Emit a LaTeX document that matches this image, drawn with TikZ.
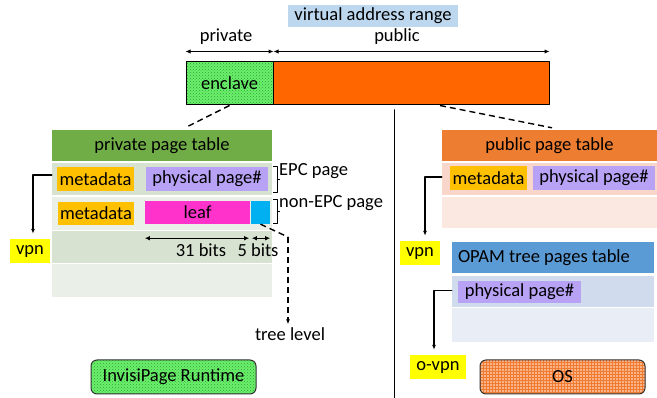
\documentclass[tikz,border=0pt]{standalone}
\usepackage{fontspec}
\setmainfont{Carlito}
\usetikzlibrary{arrows.meta,calc,positioning,patterns,decorations.pathreplacing}
\definecolor{vaBlue}{HTML}{BDD7EE}
\definecolor{encFill}{HTML}{6BF06B}
\definecolor{encDots}{HTML}{2E9E3A}
\definecolor{pubRange}{HTML}{FF6600}
\definecolor{privHead}{HTML}{70AD47}
\definecolor{privDark}{HTML}{D7E3D0}
\definecolor{privLight}{HTML}{EAF0E7}
\definecolor{metaYellow}{HTML}{FFC000}
\definecolor{physPurple}{HTML}{B8A2F6}
\definecolor{leafPink}{HTML}{FF33CC}
\definecolor{lvlBlue}{HTML}{00B0F0}
\definecolor{vpnYellow}{HTML}{FFFF00}
\definecolor{pubHead}{HTML}{ED7D31}
\definecolor{pubDark}{HTML}{F8D7CA}
\definecolor{pubLight}{HTML}{FBE8E1}
\definecolor{opamHead}{HTML}{5B9BD5}
\definecolor{opamDark}{HTML}{D0DCEE}
\definecolor{opamLight}{HTML}{E8EDF6}
\definecolor{osFill}{HTML}{F9B48A}
\definecolor{osGrid}{HTML}{F07A30}
\begin{document}
\begin{tikzpicture}[x=1pt,y=-1pt,>=Latex,line cap=round,line join=round]
\useasboundingbox (0,0) rectangle (657,398);
\tikzset{lbl/.style={font=\fontsize{18.5}{21}\selectfont,text=black,inner sep=0pt},row/.style={lbl,minimum width=220pt,minimum height=32pt},tagbox/.style={lbl,minimum height=24pt},conn/.style={draw=black,line width=1.3pt,-{Latex[length=5pt,width=4pt]}},dim/.style={draw=black,line width=1.1pt,{Latex[length=5pt,width=4.5pt]}-{Latex[length=5pt,width=4.5pt]}},link/.style={draw=black,line width=1.4pt,dash pattern=on 6pt off 4pt,line cap=butt},brk/.style={draw=black,line width=1pt,line cap=butt},dotgreen/.style={preaction={fill=encFill},pattern=crosshatch dots,pattern color=encDots}}
\node[lbl,fill=vaBlue,minimum width=170pt,minimum height=22pt] (varange) at (373,16) {virtual address range};
\node[lbl] (privtxt) at (226,37) {private};
\node[lbl] (pubtxt) at (397,37) {public};
\node[lbl,draw=black,line width=1pt,dotgreen,minimum width=87pt,minimum height=43pt] (enclave) at (229.5,83.5) {enclave};
\node[lbl,draw=black,line width=1pt,fill=pubRange,minimum width=276pt,minimum height=43pt] (pubrange) at (411,83.5) {};
\draw[dim] ([yshift=10pt]enclave.north west) -- ([yshift=10pt]enclave.north east);
\draw[dim] ([yshift=10pt,xshift=1pt]pubrange.north west) -- ([yshift=10pt]pubrange.north east);
\coordinate (divtop) at (394.5,110); \coordinate (divbot) at (394.5,398);
\draw[line width=1.6pt] (divtop) -- (divbot);
\node[row,fill=privHead,minimum height=31pt] (privhead) at (162,145.5) {private page table};
\node[row,fill=privDark] (privrow1) at (162,179) {};
\node[row,fill=privLight,minimum height=33pt] (privrow2) at (162,213.5) {};
\node[row,fill=privDark] (privrow3) at (162,247) {};
\node[row,fill=privLight,minimum height=33pt] (privrow4) at (162,280.5) {};
\draw[link] (enclave.south) -- ([xshift=25pt,yshift=3pt]privhead.north);
\node[tagbox,fill=metaYellow,minimum width=77pt] (meta1) at (95.5,179) {metadata};
\node[tagbox,fill=physPurple,minimum width=122pt] (phys1) at (207,179) {physical page\#};
\node[tagbox,fill=metaYellow,minimum width=76pt,minimum height=23pt] (meta2) at (96,213.5) {metadata};
\node[tagbox,fill=leafPink,minimum width=105pt,minimum height=23pt] (leaf) at (197.5,212.5) {leaf};
\node[tagbox,fill=lvlBlue,minimum width=19pt,minimum height=23pt] (lvl) at (260.5,212.5) {};
\draw[dim] ([yshift=-14pt]leaf.south west) -- ([yshift=-14pt,xshift=-1pt]leaf.south east);
\draw[dim] ([yshift=-14pt,xshift=1pt]lvl.south west) -- ([yshift=-14pt]lvl.south east);
\node[lbl] (bits31) at (201,250) {31 bits};
\node[lbl] (bits5) at (258,250) {5 bits};
\draw[brk] (273,167) -- (277,167) -- (277,193) -- (273,193) (277,180) -- (280,180);
\draw[brk] (273,200) -- (277,200) -- (277,224) -- (273,224) (277,212) -- (280,212);
\node[lbl,anchor=west] (epc) at (279,171) {EPC page};
\node[lbl,anchor=west] (nonepc) at (279,203) {non-EPC page};
\coordinate (lvlbend) at (288,237);
\node[lbl] (treelvl) at (290,334) {tree level};
\draw[link] (lvl.south) -- (lvlbend);
\draw[link,-{Latex[length=5pt,width=4pt]}] (lvlbend) -- ([xshift=-2pt,yshift=3pt]treelvl.north);
\node[tagbox,fill=vpnYellow,minimum width=40pt,minimum height=24pt] (vpnl) at (30,251) {vpn};
\draw[conn] ([yshift=4pt]privrow1.west) -| ([xshift=3pt,yshift=5pt]vpnl.north);
\node[lbl,draw=black!80,line width=1pt,rounded corners=6pt,dotgreen,minimum width=165pt,minimum height=34pt] (runtime) at (173.5,377) {InvisiPage Runtime};
\node[row,fill=pubHead,minimum width=215pt,minimum height=31pt] (pubhead) at (549.5,145.5) {public page table};
\node[row,fill=pubDark,minimum width=215pt] (pubrow1) at (549.5,179) {};
\node[row,fill=pubLight,minimum width=215pt,minimum height=31pt] (pubrow2) at (549.5,212.5) {};
\draw[link] ([xshift=29pt]pubrange.south) -- ([xshift=2.5pt,yshift=2pt]pubhead.north);
\node[tagbox,fill=metaYellow,minimum width=77pt] (meta3) at (488.5,178) {metadata};
\node[tagbox,fill=physPurple,minimum width=122pt] (phys3) at (594,178) {physical page\#};
\node[tagbox,fill=vpnYellow,minimum width=40pt,minimum height=24pt] (vpnr) at (420,253) {vpn};
\draw[conn] ([yshift=2pt]pubrow1.west) -| ([xshift=5pt,yshift=5pt]vpnr.north);
\node[row,fill=opamHead,minimum width=202pt,minimum height=31pt] (opamhead) at (553,257.5) {};
\node[lbl,anchor=west] (opamtxt) at ([xshift=6pt]opamhead.west) {OPAM tree pages table};
\node[row,fill=opamDark,minimum width=202pt,minimum height=31pt] (opamrow1) at (553,291.5) {};
\node[row,fill=opamLight,minimum width=202pt,minimum height=34pt] (opamrow2) at (553,325) {};
\node[tagbox,fill=physPurple,minimum width=123pt,minimum height=22pt] (phys4) at (519.5,292) {physical page\#};
\node[tagbox,fill=vpnYellow,minimum width=56pt,minimum height=24pt] (ovpn) at (438,367) {o-vpn};
\draw[conn] ([yshift=1pt]opamrow1.west) -| ([xshift=-4pt,yshift=5pt]ovpn.north);
\node[lbl,draw=black!80,line width=1pt,rounded corners=6pt,preaction={fill=osFill},pattern=grid,pattern color=osGrid,minimum width=165pt,minimum height=34pt] (os) at (562.5,377) {OS};
\end{tikzpicture}
\end{document}
